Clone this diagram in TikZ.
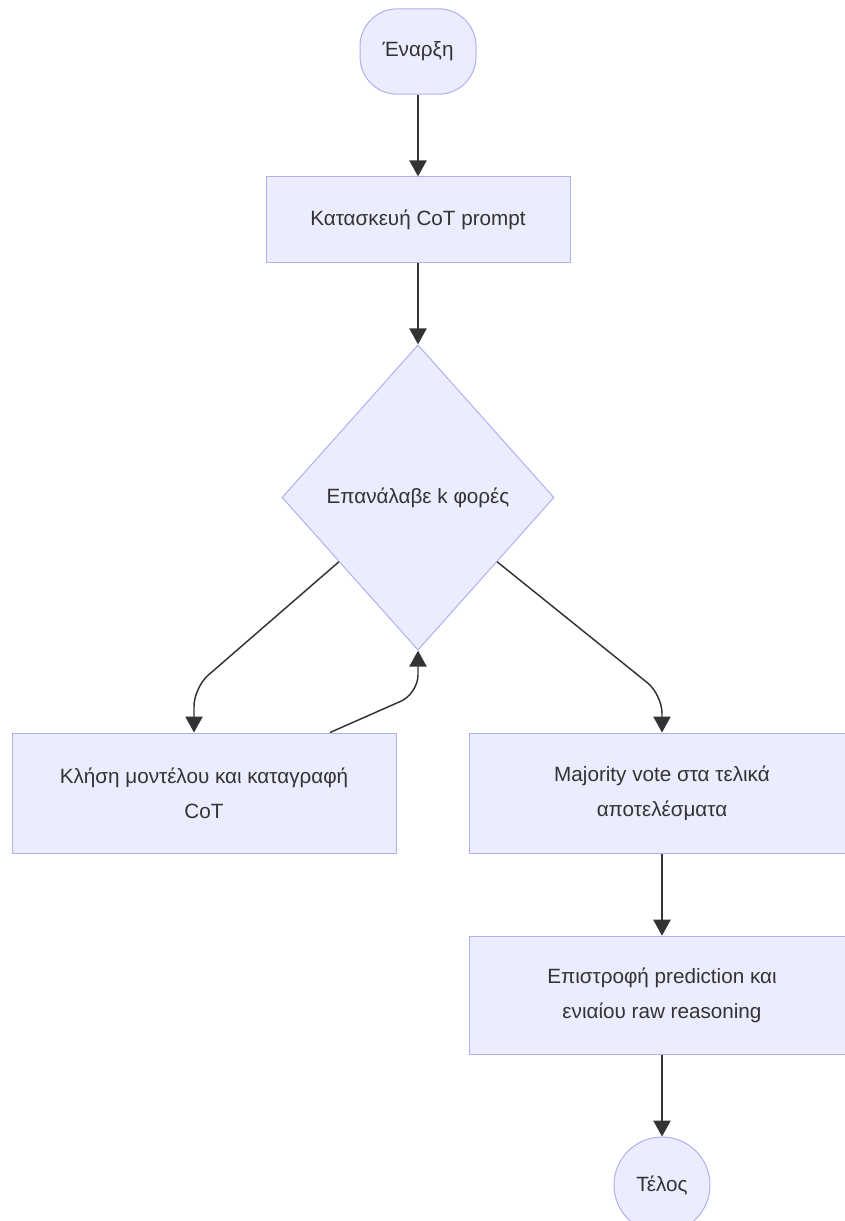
\documentclass[tikz,border=0pt]{standalone}
\usepackage{fontspec}
\setmainfont{Liberation Sans}
\usetikzlibrary{shapes.geometric,arrows.meta,calc}
\definecolor{nodefill}{HTML}{ECECFF}
\definecolor{nodeline}{HTML}{B0B0F0}
\definecolor{ink}{HTML}{333333}
\tikzset{
  base/.style={fill=nodefill, draw=nodeline, line width=0.75pt, text=ink,
    font=\fontsize{15.5}{26}\selectfont, align=center, inner sep=0pt},
  procbox/.style={base, rectangle, minimum width=#1},
  procbox/.default={228pt},
  terminal/.style={base, rectangle, rounded corners=28pt, minimum width=87pt, minimum height=64pt},
  decision/.style={base, diamond, aspect=0.895, minimum width=204pt, minimum height=229pt},
  endcircle/.style={base, circle, minimum size=72pt},
  edge/.style={draw=ink, line width=1.1pt, rounded corners=14pt,
    -{Triangle[length=12pt,width=13pt]}}
}
\begin{document}
\begin{tikzpicture}[x=0.75pt,y=-0.75pt]
  \clip (0,0) rectangle (845,1221);
  \fill[white] (0,0) rectangle (845,1221);

  % nodes
  \node[terminal] (start) at (418,51.5) {Έναρξη};
  \node[procbox=228pt, minimum height=64pt] (build) at (418,219.5) {Κατασκευή CoT prompt};
  \node[decision] (loop) at (418,497.5) {Επανάλαβε k φορές};
  \node[procbox=288pt, minimum height=90pt] (call) at (204,793) {Κλήση μοντέλου και καταγραφή\\CoT};
  \node[procbox=289.5pt, minimum height=90pt] (vote) at (662,793) {Majority vote στα τελικά\\αποτελέσματα};
  \node[procbox=289.5pt, minimum height=89pt] (ret) at (662,995.5) {Επιστροφή prediction και\\ενιαίου raw reasoning};
  \node[endcircle] (stop) at (662,1185) {Τέλος};

  % connectors
  \draw[edge] (start) -- (build);
  \draw[edge] (build) -- (loop);
  \draw[edge] ($(loop.west)!0.42!(loop.south)$) -- ($(call.north)+(-10,-45)$) -- ($(call.north)+(-10,0)$);
  \draw[edge] ($(call.north)+(126,0)$) -- ($(loop.south)+(0,43)$) -- (loop.south);
  \draw[edge] ($(loop.east)!0.42!(loop.south)$) -- ($(vote.north)+(0,-38)$) -- (vote.north);
  \draw[edge] (vote) -- (ret);
  \draw[edge] (ret) -- (stop);
\end{tikzpicture}
\end{document}
